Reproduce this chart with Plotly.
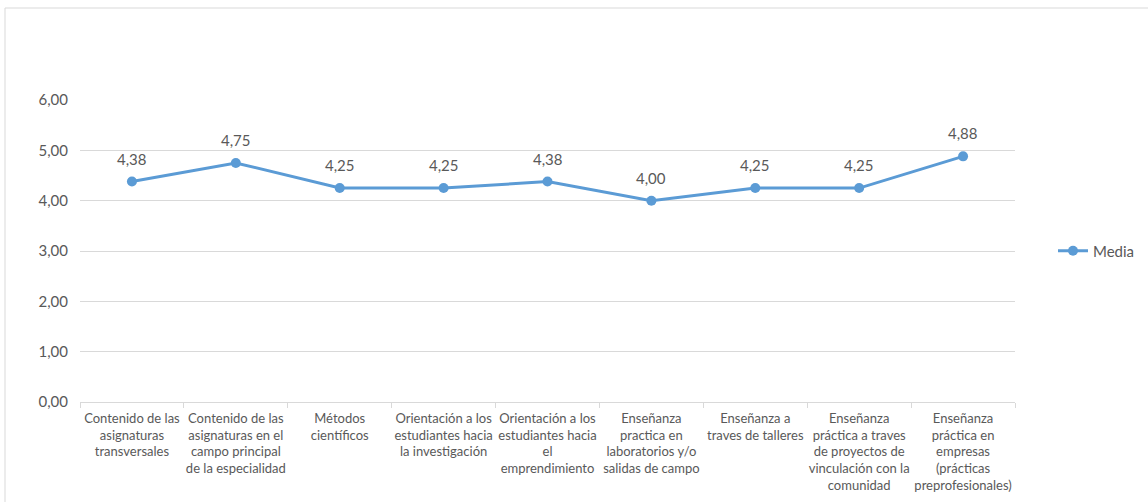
import plotly.graph_objects as go

categories = [
    "Contenido de las<br>asignaturas<br>transversales",
    "Contenido de las<br>asignaturas en el<br>campo principal<br>de la especialidad",
    "Métodos<br>científicos",
    "Orientación a los<br>estudiantes hacia<br>la investigación",
    "Orientación a los<br>estudiantes hacia<br>el<br>emprendimiento",
    "Enseñanza<br>practica en<br>laboratorios y/o<br>salidas de campo",
    "Enseñanza a<br>traves de talleres",
    "Enseñanza<br>práctica a traves<br>de proyectos de<br>vinculación con la<br>comunidad",
    "Enseñanza<br>práctica en<br>empresas<br>(prácticas<br>preprofesionales)",
]
media = [4.38, 4.75, 4.25, 4.25, 4.38, 4.00, 4.25, 4.25, 4.88]

W, H = 1148, 502
L, T = 80, 100
PW, PH = 935, 302
R = W - L - PW
B = H - T - PH
FONT = "Lato, Open Sans, sans-serif"
GREY = "#595959"

fig = go.Figure()
fig.add_trace(go.Scatter(
    x=categories, y=media, name="Media",
    mode="lines+markers",
    line=dict(color="#5b9bd5", width=3),
    marker=dict(color="#5b9bd5", size=10),
    cliponaxis=False,
))

for c, v in zip(categories, media):
    fig.add_annotation(x=c, y=v, text=f"{v:.2f}".replace(".", ","),
                       showarrow=False, yanchor="middle", yshift=23,
                       font=dict(family=FONT, size=15, color=GREY))

fig.add_shape(type="rect", xref="paper", yref="paper",
              x0=(5 - L) / PW, x1=(W + 20 - L) / PW,
              y0=-(B + 20) / PH, y1=(H - B - 8) / PH,
              line=dict(color="#d9d9d9", width=1), layer="below")

fig.update_layout(
    width=W, height=H,
    margin=dict(l=L, r=R, t=T, b=B, autoexpand=False),
    paper_bgcolor="white", plot_bgcolor="white",
    separators=",.",
    font=dict(family=FONT, size=12, color=GREY),
    showlegend=True,
    legend=dict(x=(1053 - L) / PW, xanchor="left", y=0.5, yanchor="middle",
                font=dict(family=FONT, size=15, color=GREY),
                itemwidth=30),
    xaxis=dict(
        type="category", range=[-0.5, 8.5],
        tickson="boundaries", ticks="outside", ticklen=5,
        tickcolor="#d9d9d9", showline=True, linecolor="#d9d9d9",
        showgrid=False, tickangle=0, ticklabelstandoff=4,
        tickfont=dict(family=FONT, size=13, color=GREY),
    ),
    yaxis=dict(
        range=[0, 6], dtick=1, tickformat=".2f",
        showgrid=True, gridcolor="#d9d9d9", zeroline=False,
        showline=False, ticks="", ticklabelstandoff=11,
        tickfont=dict(family=FONT, size=15, color=GREY),
    ),
)

fig.write_html("out.html",
               config={"displayModeBar": False},
               post_script="document.body.style.margin='0';document.body.style.padding='0';")
